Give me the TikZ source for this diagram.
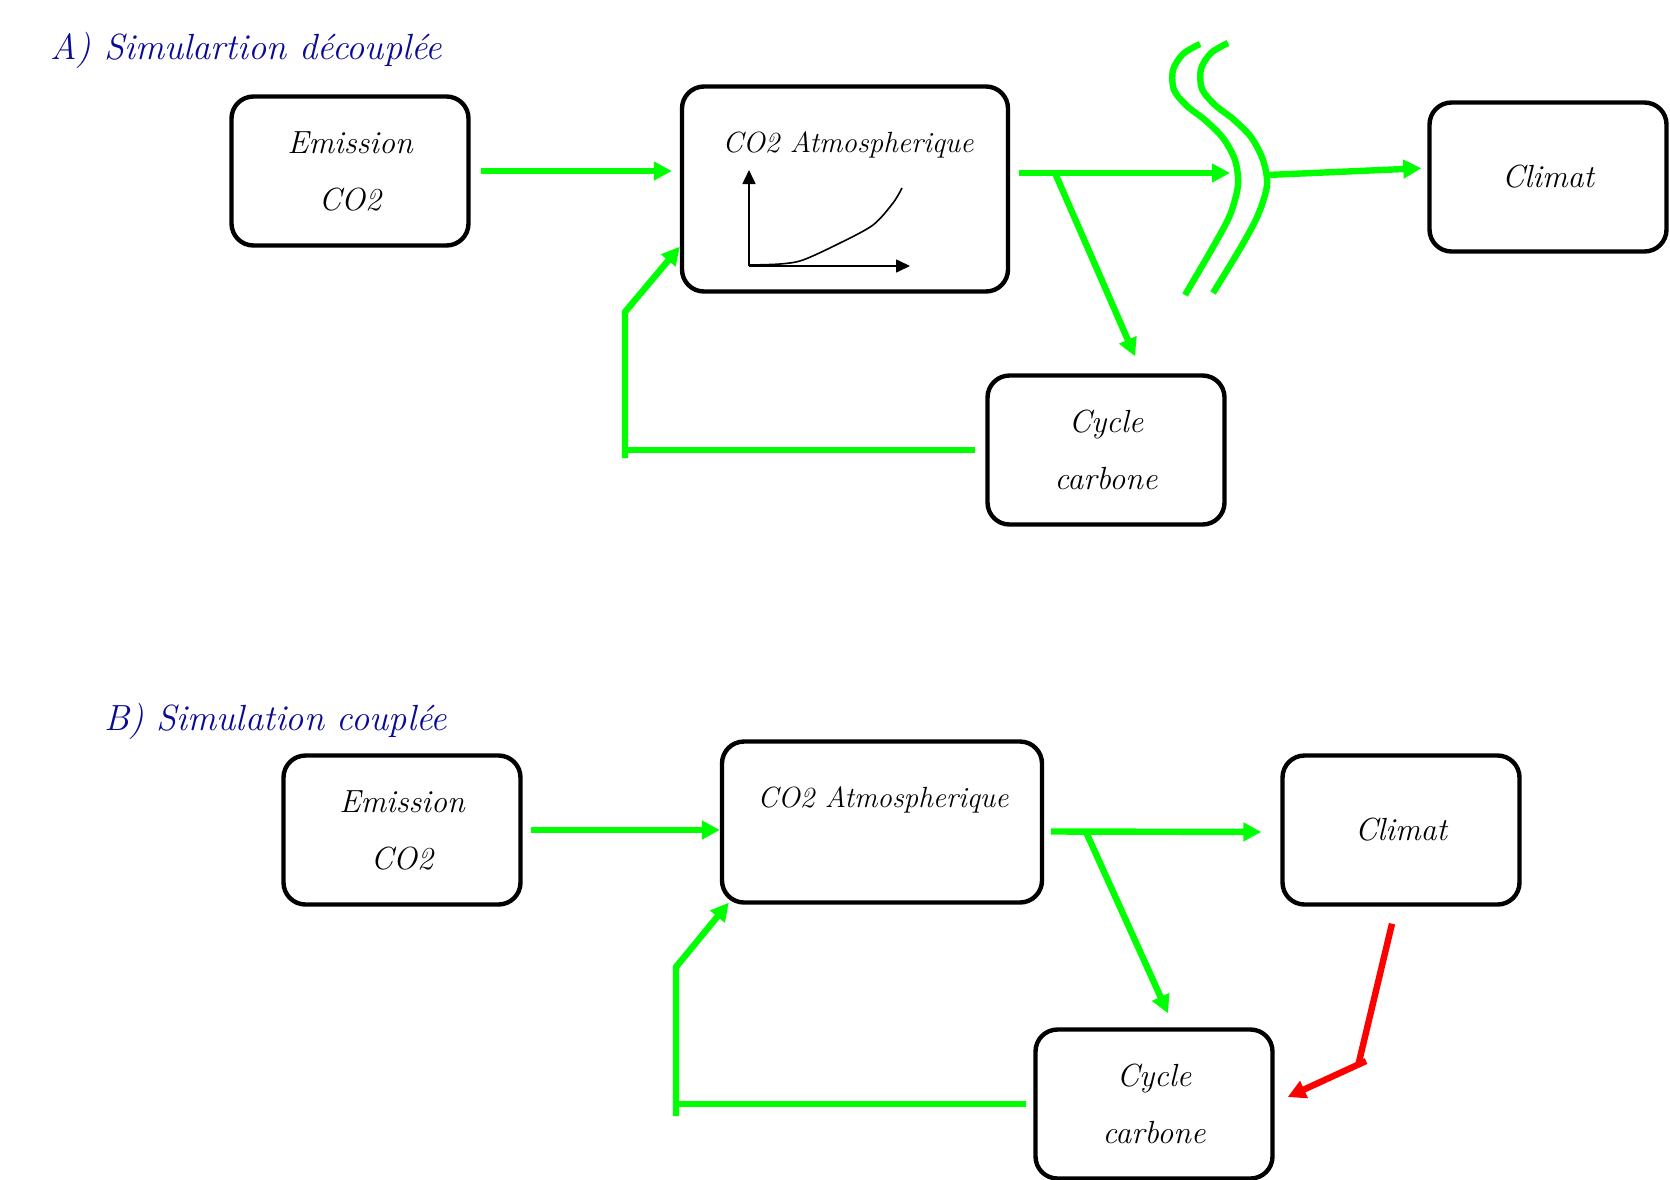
\documentclass[tikz,border=0pt]{standalone}
\usepackage{fontspec}
\usepackage{xcolor}
\usepackage{tikz}
\usetikzlibrary{arrows.meta, positioning, calc}
\definecolor{titleblue}{RGB}{10,10,150}
\definecolor{linkgreen}{RGB}{0,255,0}

\begin{document}
\begin{tikzpicture}
  [
    x=0.5pt, y=-0.5pt,
    Box/.style={rectangle, rounded corners=11pt, draw=black, line width=2.2pt, align=center, font=\fontsize{16}{28.5}\selectfont\itshape, minimum width=118.5pt, minimum height=74.5pt, inner sep=0pt},
    Txt/.style={font=\fontsize{14.6}{18}\selectfont\itshape, inner sep=0pt},
    Title/.style={font=\fontsize{18.2}{22}\selectfont\itshape, text=titleblue, inner sep=0pt, anchor=west},
    Link/.style={draw=linkgreen, line width=3.2pt},
    Arr/.style={Link, -{Triangle[length=9pt, width=9pt]}},
    RedLine/.style={draw=red, line width=3.2pt},
    RedArr/.style={RedLine, -{Triangle[length=9pt, width=9pt]}},
    Wave/.style={draw=linkgreen, line width=3.2pt},
    Axis/.style={draw=black, line width=0.8pt, -{Triangle[length=7pt, width=6.5pt]}}
  ]
  \useasboundingbox (0,0) rectangle (1670,1179);

  % Nodes A
  \node[Title] (titA) at (50,50) {A) Simulartion découplée};
  \node[Box] (emA) at (350,171) {Emission\\CO2};
  \node[Box, minimum width=163pt, minimum height=102.5pt] (atmA) at (845,189) {};
  \node[Txt] (atmAtxt) at (848,145) {CO2 Atmospherique};
  \node[Box] (climA) at (1548,177) {Climat};
  \node[Box] (cycA) at (1106,450) {Cycle\\carbone};

  % Nodes B
  \node[Title] (titB) at (104,721) {B) Simulation couplée};
  \node[Box] (emB) at (402,830) {Emission\\CO2};
  \node[Box, minimum width=160pt, minimum height=80.5pt] (atmB) at (882,822) {};
  \node[Txt] (atmBtxt) at (883,800) {CO2 Atmospherique};
  \node[Box] (climB) at (1401,830) {Climat};
  \node[Box] (cycB) at (1154,1104) {Cycle\\carbone};

  % Points
  \coordinate (jA) at (1055,173);
  \coordinate (cutA) at (1230,173);
  \coordinate (fromCut) at (1267,175);
  \coordinate (fbA) at (625,312);
  \coordinate (fbAbot) at (625,458);
  \coordinate (jB) at (1086,832);
  \coordinate (rB) at (1358,1066);
  \coordinate (rB2) at (1366,1061);
  \coordinate (fbB) at (676,967);
  \coordinate (fbBbot) at (676,1116);

  % Curve in the box
  \draw[Axis] (749,266) -- (749,170);
  \draw[Axis] (749,266) -- (910,266);
  \draw[line width=0.8pt] plot[smooth] coordinates {(749,265) (780,264) (803,260) (840,243) (873,225) (893,203) (902,188)};

  % Cut marks
  \draw[Wave] plot[smooth] coordinates {(1200,44) (1183,54) (1173,70) (1174,90) (1187,106) (1205,120) (1223,138) (1235,160) (1238,185) (1230,215) (1213,247) (1185,295)};
  \draw[Wave] plot[smooth] coordinates {(1228,43) (1211,53) (1201,69) (1202,89) (1215,105) (1233,119) (1251,137) (1263,160) (1267,185) (1258,215) (1241,247) (1213,293)};

  % Lines A
  \path[Arr, shorten <=5pt, shorten >=4pt] (emA.east) -- (emA.east -| atmA.west);
  \path[Arr] ([xshift=4.5pt,yshift=8pt]atmA.east) -- (cutA);
  \path[Arr] (jA) -- ($(cycA.north)+(29,-17)$);
  \path[Arr, shorten >=3pt] (fromCut) -- ([yshift=4.5pt]climA.west);
  \path[Link] ([xshift=-5pt]cycA.west) -- (fbAbot |- cycA.west);
  \path[Arr] (fbAbot) -- (fbA) -- ([yshift=23.5pt]atmA.south west);

  % Lines B
  \path[Arr, shorten <=4pt] (emB.east) -- (emB.east -| atmB.west);
  \path[Arr, shorten >=9.5pt] ([xshift=3.5pt,yshift=-4.75pt]atmB.east) -- (jB -| climB.west);
  \path[Arr] (jB) -- ($(cycB.north)+(14,-14)$);
  \path[RedLine] ([xshift=-4.5pt,yshift=-8.5pt]climB.south) -- (rB);
  \path[RedArr] (rB2) -- ([xshift=6.5pt,yshift=3.5pt]cycB.east);
  \path[Link] ([xshift=-3.5pt]cycB.west) -- (fbBbot |- cycB.west);
  \path[Arr] (fbBbot) -- (fbB) -- ([xshift=4.5pt,yshift=1pt]atmB.south west);

\end{tikzpicture}
\end{document}
